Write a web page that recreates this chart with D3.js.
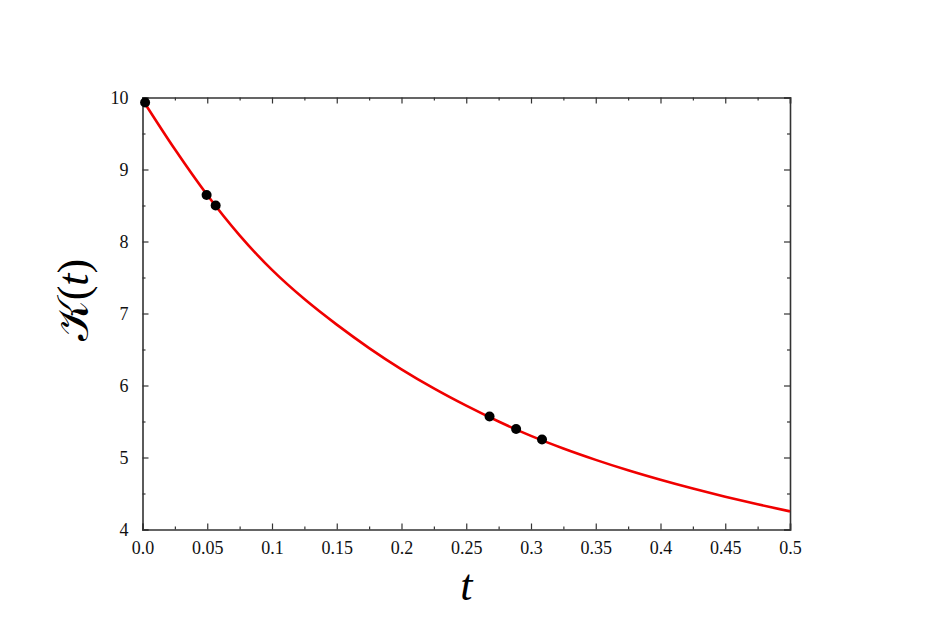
<!DOCTYPE html>
<html>
<head>
<meta charset="utf-8">
<script src="https://cdn.jsdelivr.net/npm/d3@7"></script>
<style>
  body { margin:0; background:#fff; }
  svg text { font-family:"Liberation Serif","DejaVu Serif",serif; }
</style>
</head>
<body>
<svg id="chart" width="934" height="626"></svg>
<script>
// curve K(t)
const curveT=[0,0.025,0.05,0.075,0.1,0.125,0.15,0.175,0.2,0.225,0.25,0.275,0.3,0.325,0.35,0.375,0.4,0.425,0.45,0.475,0.5];
const curveK=[9.97,9.28,8.645,8.085,7.605,7.20,6.845,6.52,6.225,5.96,5.72,5.50,5.30,5.125,4.967,4.822,4.69,4.568,4.455,4.35,4.252];
// black points
const dotT=[0.002,0.0495,0.0565,0.268,0.2885,0.3085];
const dotK=[9.93,8.645,8.50,5.57,5.395,5.25];
// ticks
const xTicks=[0,0.05,0.1,0.15,0.2,0.25,0.3,0.35,0.4,0.45,0.5];
const xTickLabels=["0.0","0.05","0.1","0.15","0.2","0.25","0.3","0.35","0.4","0.45","0.5"];
const yTicks=[4,5,6,7,8,9,10];

const svg=d3.select("#chart");
const plotLeft=142.5, plotRight=790, plotTop=97.5, plotBottom=529.5;

const x=d3.scaleLinear().domain([0,0.5]).range([plotLeft,plotRight]);
const y=d3.scaleLinear().domain([4,10]).range([plotBottom,plotTop]);

const frameColor="#333";
const minorX=d3.range(0.025,0.5,0.05);
const minorY=d3.range(4.5,10,1);

// bottom and top axes, ticks pointing in
svg.append("g").attr("transform",`translate(0,${plotBottom})`)
    .call(d3.axisBottom(x).tickValues(xTicks).tickSize(-6).tickFormat((d,i)=>xTickLabels[i]).tickPadding(12))
    .call(g=>g.selectAll(".tick text").attr("font-size",18).attr("fill","#111"));
svg.append("g").attr("transform",`translate(0,${plotBottom})`)
    .call(d3.axisBottom(x).tickValues(minorX).tickSize(-3).tickFormat(""))
    .call(g=>g.select(".domain").remove());
svg.append("g").attr("transform",`translate(0,${plotTop})`)
    .call(d3.axisTop(x).tickValues(xTicks).tickSize(-6).tickFormat(""));
svg.append("g").attr("transform",`translate(0,${plotTop})`)
    .call(d3.axisTop(x).tickValues(minorX).tickSize(-3).tickFormat(""))
    .call(g=>g.select(".domain").remove());

// left and right axes
svg.append("g").attr("transform",`translate(${plotLeft},0)`)
    .call(d3.axisLeft(y).tickValues(yTicks).tickSize(-6).tickFormat(d3.format("d")).tickPadding(14))
    .call(g=>g.selectAll(".tick text").attr("font-size",18).attr("fill","#111"));
svg.append("g").attr("transform",`translate(${plotLeft},0)`)
    .call(d3.axisLeft(y).tickValues(minorY).tickSize(-3).tickFormat(""))
    .call(g=>g.select(".domain").remove());
svg.append("g").attr("transform",`translate(${plotRight},0)`)
    .call(d3.axisRight(y).tickValues(yTicks).tickSize(-6).tickFormat(""));
svg.append("g").attr("transform",`translate(${plotRight},0)`)
    .call(d3.axisRight(y).tickValues(minorY).tickSize(-3).tickFormat(""))
    .call(g=>g.select(".domain").remove());

svg.selectAll(".domain").attr("stroke",frameColor).attr("stroke-width",1.6);
svg.selectAll(".tick line").attr("stroke",frameColor).attr("stroke-width",1.2);

// red curve
const curveData=curveT.map((t,i)=>({t:t,k:curveK[i]}));
svg.append("path")
    .datum(curveData)
    .attr("fill","none")
    .attr("stroke","#f00000")
    .attr("stroke-width",2.6)
    .attr("d",d3.line().x(d=>x(d.t)).y(d=>y(d.k)).curve(d3.curveMonotoneX));

// points
svg.append("g").selectAll("circle")
    .data(dotT.map((t,i)=>({t:t,k:dotK[i]})))
    .join("circle")
    .attr("cx",d=>x(d.t)).attr("cy",d=>y(d.k))
    .attr("r",5)
    .attr("fill","#000");

// axis titles
svg.append("text")
    .attr("x",(plotLeft+plotRight)/2).attr("y",600)
    .attr("text-anchor","middle")
    .attr("font-size",44).attr("font-style","italic")
    .text("t");

const yTitle=svg.append("text")
    .attr("transform","translate(88,300) rotate(-90)")
    .attr("text-anchor","middle")
    .attr("font-size",44);
yTitle.append("tspan").attr("font-family","'DejaVu Serif','Noto Sans',serif").text("𝒦");
yTitle.append("tspan").text("(");
yTitle.append("tspan").attr("font-style","italic").text("t");
yTitle.append("tspan").text(")");
</script>
</body>
</html>
